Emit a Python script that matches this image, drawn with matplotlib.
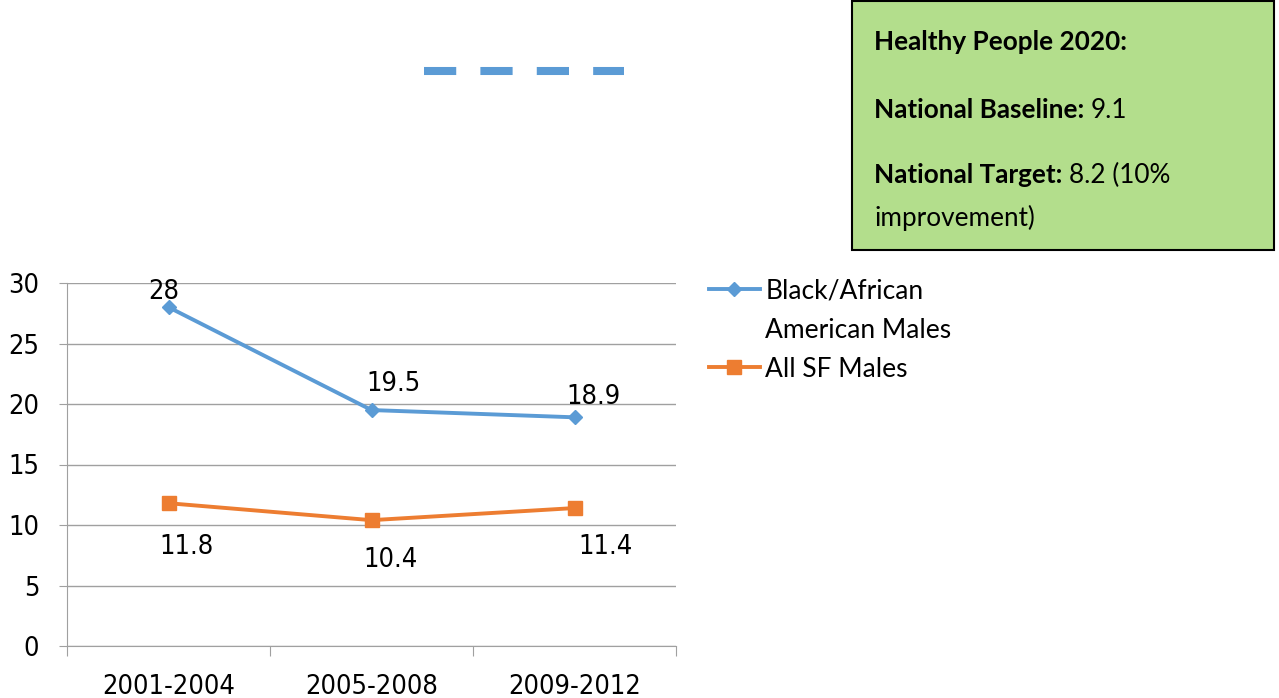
import numpy as np
import matplotlib
matplotlib.use("Agg")
import matplotlib.pyplot as plt
from matplotlib.patches import Rectangle
from matplotlib.lines import Line2D

# data
periods = ["2001-2004", "2005-2008", "2009-2012"]
black_males = [28, 19.5, 18.9]
sf_males = [11.8, 10.4, 11.4]
series_names = ["Black/African", "American Males", "All SF Males"]
yticks = [0, 5, 10, 15, 20, 25, 30]

blue = "#5B9BD5"
orange = "#ED7D31"
box_font = ["Lato", "DejaVu Sans"]
cfont = dict(fontfamily="DejaVu Sans", fontstretch="condensed", fontsize=19.5)

W, H = 1279, 698
fig = plt.figure(figsize=(W / 100, H / 100), dpi=100)

ax = fig.add_axes([67 / W, 1 - 646 / H, 609 / W, 363 / H])
x = np.arange(len(periods))
l1, = ax.plot(x, black_males, color=blue, lw=2.8, marker="D", ms=7)
l2, = ax.plot(x, sf_males, color=orange, lw=2.8, marker="s", ms=10)

ax.set_xlim(-0.5, len(periods) - 0.5)
ax.set_ylim(0, 30)
ax.set_yticks(yticks)
ax.set_yticklabels([str(v) for v in yticks], **cfont)
ax.yaxis.grid(True, color="#A0A0A0", lw=1)
ax.set_axisbelow(True)
ax.set_xticks(np.arange(-0.5, len(periods)), labels=[""] * (len(periods) + 1))
ax.set_xticks(x, labels=periods, minor=True, **cfont)
ax.tick_params(axis="x", which="major", length=7, color="#A0A0A0")
ax.tick_params(axis="x", which="minor", length=0, pad=20)
ax.tick_params(axis="y", length=6, color="#A0A0A0", pad=14)
for s in ["top", "right"]:
    ax.spines[s].set_visible(False)
ax.spines["left"].set_color("#A0A0A0")
ax.spines["bottom"].set_color("#A0A0A0")

# data labels
blue_off = [(-5, 15), (22, 26), (19, 20)]
orange_off = [(18, -44), (19, -40), (31, -39)]
for xi, v, off in zip(x, black_males, blue_off):
    ax.annotate(f"{v:g}", (xi, v), xytext=off, textcoords="offset pixels",
                ha="center", va="center", **cfont)
for xi, v, off in zip(x, sf_males, orange_off):
    ax.annotate(f"{v:g}", (xi, v), xytext=off, textcoords="offset pixels",
                ha="center", va="center", **cfont)

# legend: the wrapped label's second line gets a blank handle
blank = Line2D([], [], alpha=0)
leg = ax.legend([l1, blank, l2], series_names, loc="upper left",
                bbox_to_anchor=(698 / W, 1 - 268 / H),
                bbox_transform=fig.transFigure, frameon=False,
                prop={"family": box_font, "size": 19}, handlelength=1.95,
                handletextpad=0.2, labelspacing=0.53, borderaxespad=0)

# dashed line at top
fig.add_artist(Line2D([424 / W, 624 / W], [1 - 71 / H, 1 - 71 / H], color=blue,
                      lw=5.8, linestyle=(0, (4, 3)), solid_capstyle="butt",
                      dash_capstyle="butt"))

# Healthy People box
fs = 18.8
fig.add_artist(Rectangle((852 / W, 1 - 250 / H), 422 / W, 249 / H,
                         transform=fig.transFigure, facecolor="#B3DE8C",
                         edgecolor="black", lw=1.5))
fig.text(874 / W, 1 - 42 / H, "Healthy People 2020:", fontweight="bold",
         fontsize=fs, fontfamily=box_font, va="center")
t1 = fig.text(874 / W, 1 - 110 / H, "National Baseline: ", fontweight="bold",
              fontsize=fs, fontfamily=box_font, va="center")
t2 = fig.text(874 / W, 1 - 175 / H, "National Target: ", fontweight="bold",
              fontsize=fs, fontfamily=box_font, va="center")
fig.canvas.draw()
r = fig.canvas.get_renderer()
bb1 = t1.get_window_extent(r)
bb2 = t2.get_window_extent(r)
fig.text(bb1.x1 / W, 1 - 110 / H, "9.1", fontsize=fs, fontfamily=box_font, va="center")
fig.text(bb2.x1 / W, 1 - 175 / H, "8.2 (10%", fontsize=fs, fontfamily=box_font, va="center")
fig.text(874 / W, 1 - 218 / H, "improvement)", fontsize=fs, fontfamily=box_font, va="center")

fig.savefig("out.png", dpi=100)
